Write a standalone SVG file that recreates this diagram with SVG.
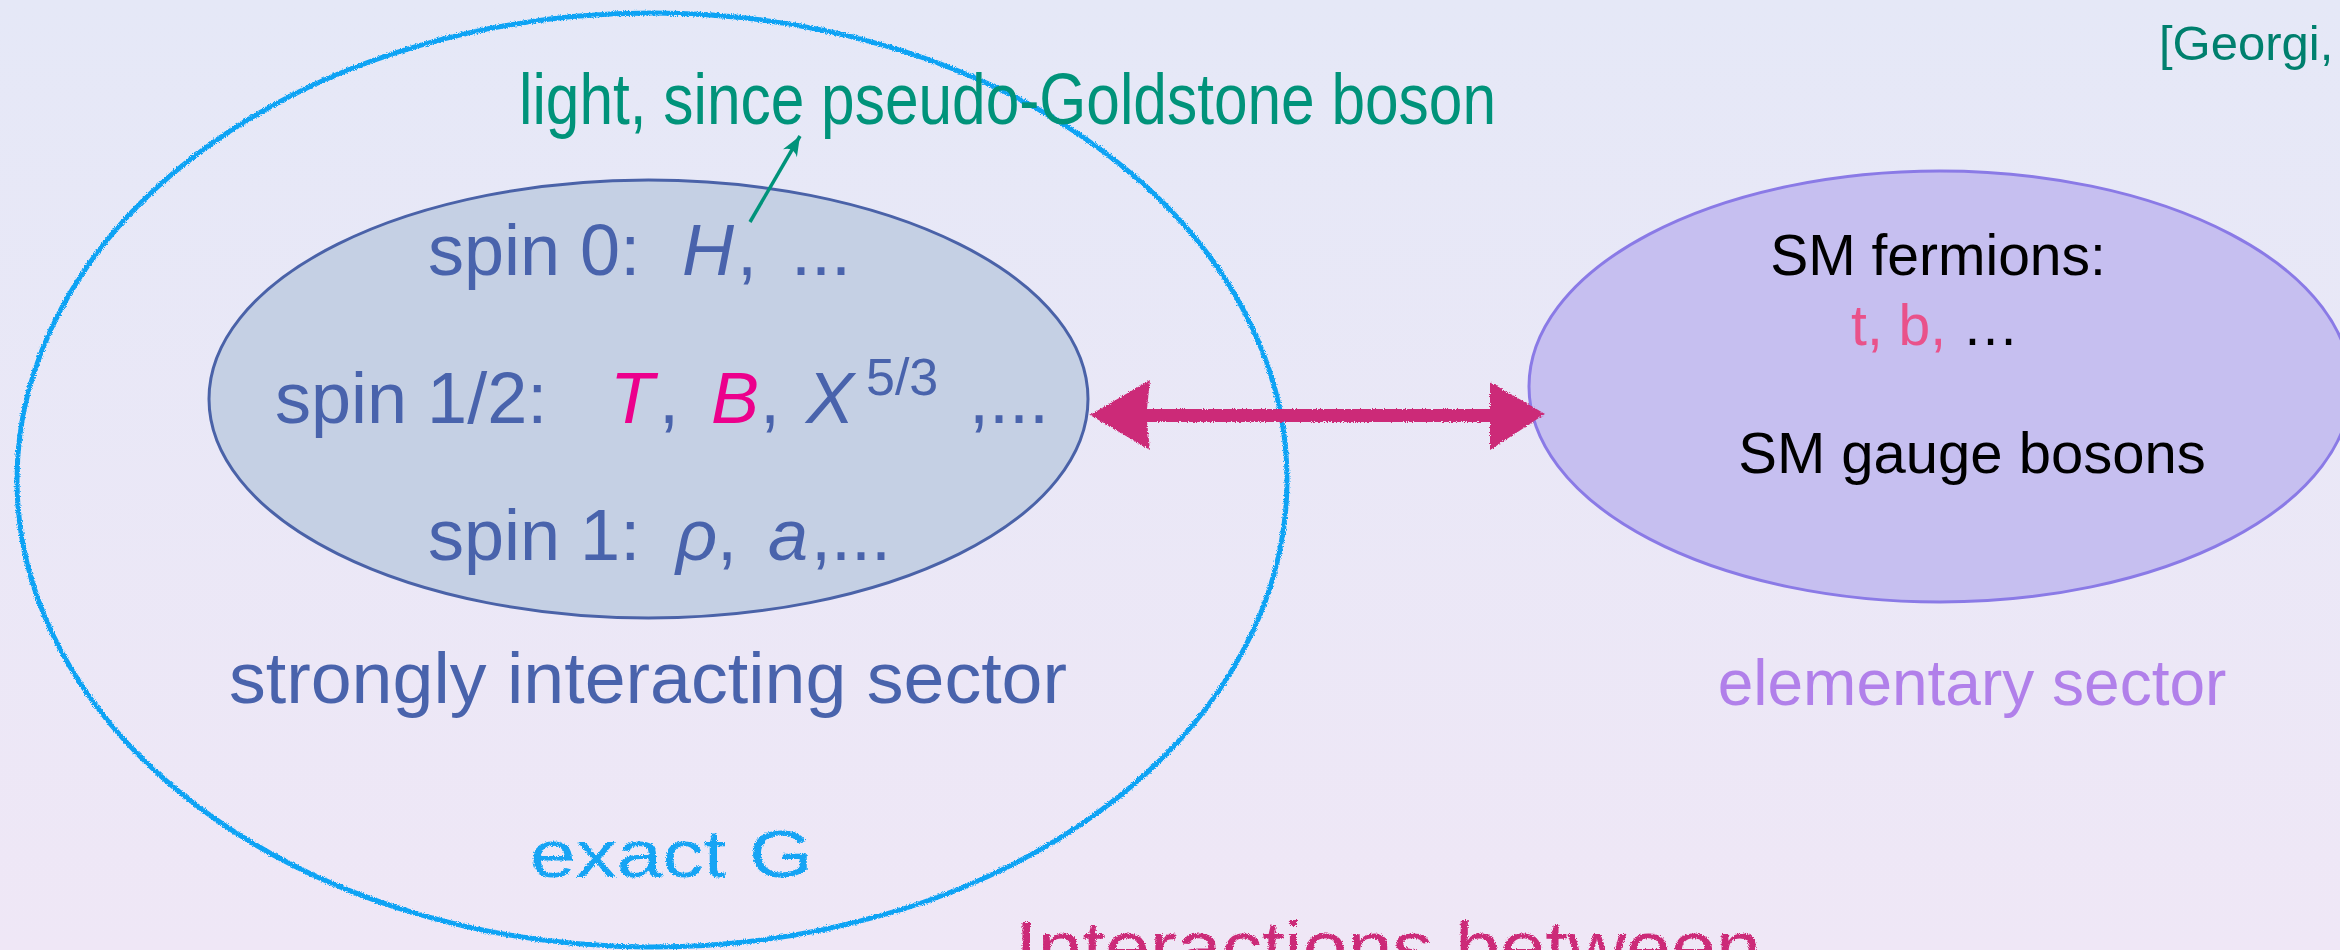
<svg xmlns="http://www.w3.org/2000/svg" width="2340" height="950" viewBox="0 0 2340 950">
  <defs>
    <linearGradient id="bg" x1="0" y1="0" x2="0" y2="1">
      <stop offset="0" stop-color="#e5e8f7"/>
      <stop offset="1" stop-color="#efe7f6"/>
    </linearGradient>
    <filter id="crayon" x="-5%" y="-5%" width="110%" height="110%">
      <feTurbulence type="fractalNoise" baseFrequency="0.9" numOctaves="2" seed="3" result="n"/>
      <feDisplacementMap in="SourceGraphic" in2="n" scale="4" xChannelSelector="R" yChannelSelector="G"/>
    </filter>
    <marker id="tealHead" markerUnits="userSpaceOnUse" viewBox="-22 -10 24 20" refX="0" refY="0" markerWidth="24" markerHeight="20" orient="auto">
      <path d="M0,0 L-20,-8 Q-12,0 -20,8 Z" fill="#00937a"/>
    </marker>
    <style>
      .cm { font-family: "Liberation Sans", "DejaVu Sans", sans-serif; fill: #4963ac; font-size: 72px; }
      .it { font-style: italic; }
      .mag { fill: #ec008c; }
      .ar { font-family: "Liberation Sans", Arial, sans-serif; }
      .hand { font-family: "Liberation Sans", sans-serif; filter: url(#crayon); }
    </style>
  </defs>

  <rect x="0" y="0" width="2340" height="950" fill="url(#bg)"/>

  <!-- reference -->
  <text id="ref" class="ar" x="2159" y="60" font-size="49" fill="#00806e">[Georgi,</text>

  <!-- outer strongly interacting sector -->
  <g id="node-strong-sector">
    <ellipse cx="652" cy="480" rx="635" ry="467" fill="none" stroke="#10a3f4" stroke-width="5" filter="url(#crayon)"/>
    <text class="cm" x="229" y="703" textLength="838" lengthAdjust="spacingAndGlyphs">strongly interacting sector</text>
    <text class="hand" x="530" y="877" font-size="66" fill="#12a4f4" textLength="283" lengthAdjust="spacingAndGlyphs">exact G</text>
  </g>

  <!-- composite resonances -->
  <g id="node-composites">
    <ellipse cx="648.5" cy="399" rx="439.5" ry="219" fill="#c5d0e4" stroke="#4a62a8" stroke-width="3"/>
    <text class="cm" y="275"><tspan x="428">spin 0:</tspan><tspan x="682" class="it">H</tspan><tspan x="737">,</tspan><tspan x="791">...</tspan></text>
    <text class="cm" y="423"><tspan x="275">spin 1/2:</tspan><tspan x="610" class="it mag">T</tspan><tspan x="659">,</tspan><tspan x="711" class="it mag">B</tspan><tspan x="760">,</tspan><tspan x="806" class="it">X</tspan><tspan x="866" y="395" font-size="52">5/3</tspan><tspan x="969" y="423">,...</tspan></text>
    <text class="cm" y="560"><tspan x="428">spin 1:</tspan><tspan x="676" class="it">ρ</tspan><tspan x="717">,</tspan><tspan x="768" class="it">a</tspan><tspan x="811">,...</tspan></text>
  </g>

  <!-- elementary sector -->
  <g id="node-elementary">
    <ellipse cx="1940" cy="386.5" rx="411" ry="215.5" fill="#c6bff0" stroke="#8a7ae6" stroke-width="3"/>
    <text class="ar" x="1938" y="275" font-size="57" text-anchor="middle" fill="#000">SM fermions:</text>
    <text class="ar" x="1935" y="345" font-size="57" text-anchor="middle"><tspan fill="#e9528a">t, b,</tspan><tspan fill="#000"> …</tspan></text>
    <text class="ar" x="1972" y="473" font-size="58" text-anchor="middle" fill="#000">SM gauge bosons</text>
    <text class="ar" x="1972" y="705" font-size="64" text-anchor="middle" fill="#b180ea">elementary sector</text>
  </g>

  <!-- annotation -->
  <g id="note-light">
    <text class="cm" x="519" y="124" font-size="60" textLength="977" lengthAdjust="spacingAndGlyphs" style="fill:#00937a">light, since pseudo-Goldstone boson</text>
  </g>

  <g id="connectors">
    <line x1="750" y1="222" x2="800" y2="136" stroke="#00937a" stroke-width="3.5" marker-end="url(#tealHead)"/>
    <path d="M1090,415 L1150,380 L1147,409 L1490,409 L1490,382 L1545,414 L1490,450 L1490,422 L1147,422 L1150,450 Z" fill="#cc2a78" filter="url(#crayon)"/>
  </g>

  <text id="note-interactions" class="hand" x="1015" y="972" font-size="72" fill="#cc2a78" textLength="746" lengthAdjust="spacingAndGlyphs">Interactions between</text>
</svg>
